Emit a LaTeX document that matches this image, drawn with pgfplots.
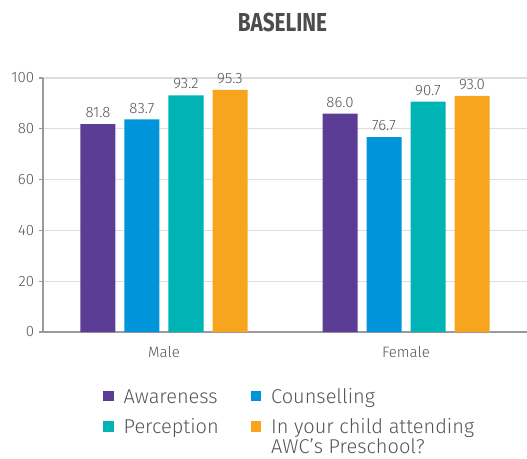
\documentclass[border=0pt]{standalone}
\usepackage{fontspec}
\setmainfont{Fira Sans}[UprightFont={* Light},BoldFont={* Bold}]
\newfontfamily\titlefont[FakeStretch=0.8]{Fira Sans Bold}
\usepackage{pgfplots}
\pgfplotsset{compat=1.18}
\definecolor{cpurple}{HTML}{5C3D96}
\definecolor{cblue}{HTML}{0095DA}
\definecolor{cteal}{HTML}{00B3B5}
\definecolor{corange}{HTML}{F7A51D}
\definecolor{ctext}{HTML}{555555}
\definecolor{caxis}{HTML}{9A9A9A}
\definecolor{cgrid}{HTML}{DDDDDD}
\begin{document}
\begin{tikzpicture}
\useasboundingbox (-43bp,-127bp) rectangle (484bp,332bp);
\begin{axis}[
  at={(0,0)}, anchor=south west,
  scale only axis, width=484bp, height=254bp,
  xmin=-0.5, xmax=1.5, ymin=0, ymax=100,
  ybar=9bp, bar width=35bp,
  axis x line=bottom, axis y line=left,
  axis line style={-, draw=caxis, line width=1.2bp},
  ytick={0,20,40,60,80,100},
  ymajorgrids, grid style={cgrid, line width=1.2bp},
  xtick={0,1}, xticklabels={Male,Female},
  major x tick style={draw=none},
  extra x ticks={-0.5,0.5,1.5}, extra x tick labels={},
  extra x tick style={grid=none, major tick length=4bp, tick style={draw=caxis, line width=1.2bp}},
  tick align=outside, major tick length=4bp,
  y tick style={draw=caxis, line width=1.2bp},
  /pgf/number format/assume math mode=true,
  tick label style={font=\fontsize{15bp}{18bp}\selectfont, text=ctext},
  yticklabel style={inner sep=0pt, anchor=east, xshift=-4.7bp},
  xticklabel style={inner sep=0pt, anchor=north, yshift=-10.5bp},
  nodes near coords,
  nodes near coords style={font=\fontsize{15bp}{18bp}\selectfont, text=ctext, anchor=south, inner sep=0pt, yshift=6bp,
    /pgf/number format/.cd, fixed, fixed zerofill, precision=1, assume math mode=true},
  legend columns=2,
  legend style={at={(0,0)}, anchor=north west, xshift=60bp, yshift=-54bp,
    draw=none, fill=none, inner sep=0pt, column sep=0pt, row sep=10bp,
    font=\fontsize{20bp}{20bp}\selectfont, text=ctext,
    cells={anchor=base west, inner sep=0pt},
    /tikz/every odd column/.append style={column sep=8bp}},
  legend image code/.code={\fill[#1] (0bp,2bp) rectangle (10.5bp,12.5bp);},
]
\addplot[fill=cpurple, draw=none] coordinates {(0,81.8) (1,86.0)};
\addlegendentry{\makebox[125bp][l]{Awareness}}
\addplot[fill=cblue, draw=none] coordinates {(0,83.7) (1,76.7)};
\addlegendentry{Counselling}
\addplot[fill=cteal, draw=none] coordinates {(0,93.2) (1,90.7)};
\addlegendentry{\makebox[125bp][l]{Perception}}
\addplot[fill=corange, draw=none] coordinates {(0,95.3) (1,93.0)};
\addlegendentry{\parbox[t]{220bp}{In your child attending\\AWC's Preschool?}}
\end{axis}
\node[anchor=base, text=ctext!90!black, font=\titlefont\fontsize{26bp}{28bp}\selectfont, inner sep=0pt] at (239.5bp,300bp) {BASELINE};
\end{tikzpicture}
\end{document}
